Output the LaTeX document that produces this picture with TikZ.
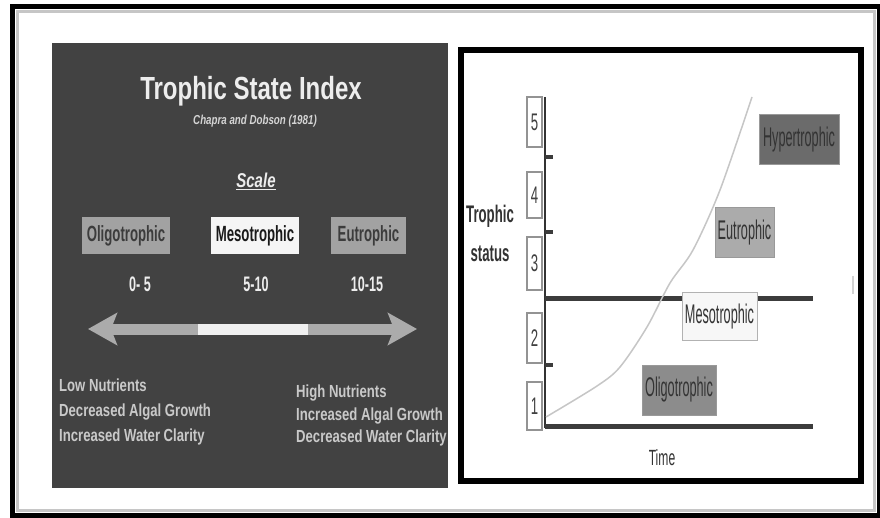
\documentclass[tikz,border=0pt]{standalone}
\usepackage{fontspec}
\setmainfont{Liberation Sans}
\newfontfamily\panelfont[FakeStretch=0.75]{Liberation Sans}
\newfontfamily\labelfont[FakeStretch=0.6]{Liberation Sans}
\newfontfamily\chartfont[FakeStretch=0.55]{Liberation Sans}
\newfontfamily\tallfont[FakeStretch=0.47]{Liberation Sans}
\usetikzlibrary{arrows.meta}
\definecolor{slate}{HTML}{424242}
\definecolor{paletext}{HTML}{EDEDED}
\definecolor{softtext}{HTML}{C9C9C9}
\definecolor{midgray}{HTML}{A2A2A2}
\definecolor{darkgray}{HTML}{3C3C3C}

\begin{document}
\begin{tikzpicture}[x=1pt,y=-1pt,
    scalebox/.style={minimum height=37pt, inner sep=0pt, text=darkgray,
      font=\labelfont\bfseries\fontsize{22}{24}\selectfont},
    rangetext/.style={anchor=base, text=paletext, font=\labelfont\bfseries\fontsize{21}{23}\selectfont},
    levelbox/.style={draw=gray!80, line width=1pt, fill=white, minimum width=75pt,
      minimum height=48pt, inner sep=0pt, text=black!80,
      font=\tallfont\fontsize{27}{29}\selectfont},
    numbox/.style={draw=gray!85, line width=1.2pt, fill=white, minimum width=15pt,
      inner sep=0pt, text=black!75, font=\chartfont\fontsize{24}{26}\selectfont},
    bar/.style={line width=5pt, darkgray}]
    \useasboundingbox (0,0) rectangle (880,518);
    \fill[white] (0,0) rectangle (880,518);
    % outer frame
    \draw[line width=3pt, gray!45] (17,12) rectangle (874,510);
    \draw[line width=5pt] (12,7) rectangle (879,515);

    % left panel
    \fill[slate] (52,43) rectangle (448,488);
    \node [anchor=base, text=paletext, font=\panelfont\bfseries\fontsize{32}{34}\selectfont]
        (title) at (251,100) {Trophic State Index};
    \node [anchor=base, text=paletext!90!black, font=\panelfont\bfseries\itshape\fontsize{13}{15}\selectfont]
        (source) at (255,125) {Chapra and Dobson (1981)};
    \node [anchor=base, text=paletext, font=\panelfont\bfseries\itshape\fontsize{20}{22}\selectfont]
        (scale) at (256,188) {\underline{Scale}};
    \node [scalebox, fill=midgray, minimum width=88pt] (oligo) at (126,235.5) {Oligotrophic};
    \node [scalebox, fill=gray!8, minimum width=88pt, text=black!90] (meso) at (255,235.5) {Mesotrophic};
    \node [scalebox, fill=midgray, minimum width=75pt] (eutro) at (368.5,235.5) {Eutrophic};
    \node [rangetext] (low) at (140,292) {0- 5};
    \node [rangetext] (mid) at (256,292) {5-10};
    \node [rangetext] (high) at (367,292) {10-15};
    % scale arrow
    \coordinate (lowend) at (88,329);
    \coordinate (whitel) at (198,329);
    \coordinate (whiter) at (308,329);
    \coordinate (highend) at (417,329);
    \draw[line width=11pt, midgray!90!white, {Stealth[length=29pt,width=32pt,inset=6pt]}-] (lowend) -- (whitel);
    \draw[line width=11pt, gray!12] (whitel) -- (whiter);
    \draw[line width=11pt, midgray!90!white, -{Stealth[length=29pt,width=32pt,inset=6pt]}] (whiter) -- (highend);
    \node [anchor=west, inner sep=0pt, align=left, text=softtext,
        font=\panelfont\bfseries\fontsize{17.5}{25}\selectfont] (lownote) at (59,412)
        {Low Nutrients\\Decreased Algal Growth\\Increased Water Clarity};
    \node [anchor=west, inner sep=0pt, align=left, text=softtext,
        font=\panelfont\bfseries\fontsize{17.5}{22.5}\selectfont] (highnote) at (296,415.5)
        {High Nutrients\\Increased Algal Growth\\Decreased Water Clarity};

    % right panel
    \draw[line width=6pt, fill=white] (460.5,50) rectangle (860.5,481);
    \draw[gray!35, line width=2pt] (853,276) -- (853,294);
    \coordinate (axtop) at (545,97);
    \coordinate (axbot) at (545,428);
    \draw[line width=2pt, black!80] (axtop) -- (axbot);
    \draw[bar] (545,299) -- (813,299);
    \draw[bar] (545,426) -- (813,426);
    \foreach \y in {157,232,365}
        \draw[line width=3.5pt, darkgray] (545,\y) -- (553,\y);
    \node [numbox, minimum height=50pt] (five) at (534.5,122) {5};
    \node [numbox, minimum height=46pt] (four) at (534.5,195) {4};
    \node [numbox, minimum height=53pt] (three) at (534.5,263.5) {3};
    \node [numbox, minimum height=50pt] (two) at (534.5,338) {2};
    \node [numbox, minimum height=48pt] (one) at (534.5,406) {1};
    \node [anchor=base, text=black!80, font=\chartfont\bfseries\fontsize{24}{26}\selectfont] (ylabel) at (490,223) {Trophic};
    \node [anchor=base, text=black!80, font=\chartfont\bfseries\fontsize{24}{26}\selectfont] (ylabel2) at (490,262) {status};
    \node [anchor=base, text=black!80, font=\chartfont\fontsize{22}{24}\selectfont] (xlabel) at (662,465) {Time};
    % growth curve
    \draw[gray!45, line width=1.5pt] plot[smooth, tension=0.5] coordinates
        {(546,417) (597,386) (620,367) (647,327) (670,283) (693,250) (720,190) (752,97)};
    \node [levelbox, fill=black!58, minimum width=80pt, minimum height=50pt] (hyper) at (799,140) {Hypertrophic};
    \node [levelbox, fill=black!33, minimum width=59pt, minimum height=50pt] (eutrophic) at (744.5,233) {Eutrophic};
    \node [levelbox, fill=gray!6, draw=gray!60, minimum width=75pt, minimum height=47pt] (mesotrophic) at (719.5,316.5) {Mesotrophic};
    \node [levelbox, fill=black!45, minimum width=74pt, minimum height=50pt] (oligotrophic) at (679,390) {Oligotrophic};
\end{tikzpicture}
\end{document}
